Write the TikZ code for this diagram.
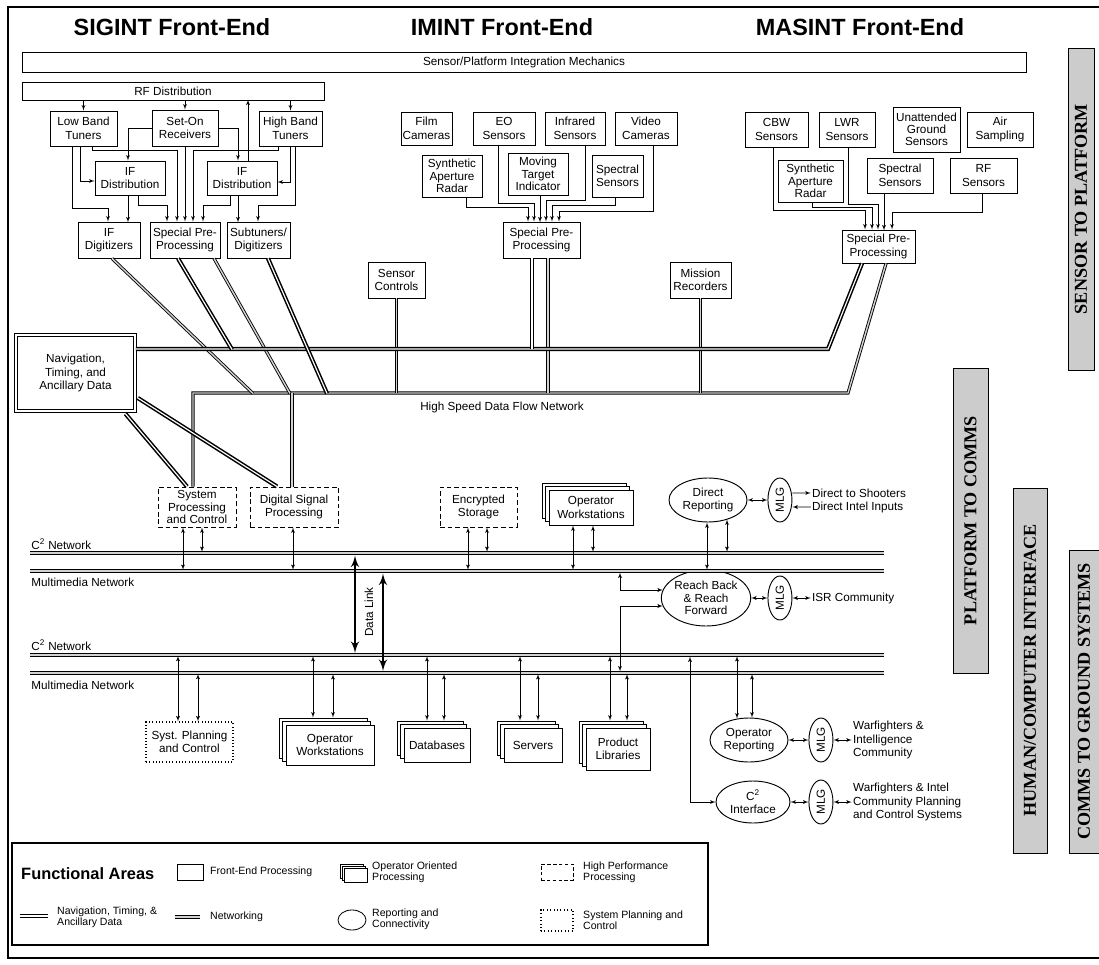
\documentclass[tikz,border=0pt]{standalone}
\usepackage{fontspec}
\setmainfont{Liberation Sans}
\newfontfamily\bannerfont{Liberation Serif}
\usepackage{graphicx}
\usepackage{tikz}
\usetikzlibrary{positioning}
\usetikzlibrary{arrows,arrows.meta}
\usetikzlibrary{calc}
\usetikzlibrary{shapes,shapes.geometric,shadows}
\newcommand{\boxfont}{\fontsize{10}{11.5}\selectfont}
\newcommand{\legfont}{\fontsize{9}{9.5}\selectfont}
\tikzset{wh/.style 2 args={minimum width=#1*0.03cm, minimum height=#2*0.03cm}}
\tikzstyle{feblock} = [draw, fill=white, rectangle, line width=0.8pt, align=center, inner sep=1pt, font=\boxfont]
\tikzstyle{hpblock} = [feblock, dash pattern=on 4pt off 2.5pt]
\tikzstyle{spblock} = [feblock, dotted, line width=1.1pt]
\tikzstyle{opblock} = [feblock, double copy shadow={shadow xshift=-3pt, shadow yshift=3pt}]
\tikzstyle{legop} = [draw, fill=white, line width=0.6pt, double copy shadow={shadow xshift=-1.5pt, shadow yshift=1.5pt}]
\tikzstyle{ntabox} = [feblock, line width=1.4pt, double, double distance=1pt]
\tikzstyle{report} = [draw, fill=white, ellipse, line width=0.8pt, align=center, inner sep=0pt, font=\boxfont]
\tikzstyle{mlg} = [report, wh={24}{44}]
\tikzstyle{ntaline} = [line width=1.3pt, double, double distance=1pt]
\tikzstyle{netline} = [line width=0.75pt, draw=black, double=gray!35, double distance=1.2pt]
\tikzstyle{feed} = [->, line width=0.6pt]
\tikzstyle{duplex} = [<->, line width=0.6pt]
\tikzstyle{dlink} = [<->, line width=2.4pt]
\tikzstyle{banner} = [draw, fill=gray!40, line width=0.8pt, rotate=90, inner sep=0pt, font=\bannerfont\bfseries\fontsize{15.5}{16}\selectfont]
\tikzstyle{areatitle} = [font=\bfseries\fontsize{20}{24}\selectfont]
\tikzstyle{netlabel} = [font=\boxfont, inner sep=1pt]
\tikzstyle{endtext} = [font=\boxfont, align=left, inner sep=1pt]
\tikzstyle{legtext} = [font=\legfont, align=left, anchor=west, inner sep=0pt]

\begin{document}
\begin{tikzpicture}[x=0.03cm, y=-0.03cm, auto, >=latex']
\useasboundingbox (0,0) rectangle (1099,965);
\draw[line width=1pt] (1099,7) -- (8,7) -- (8,958) -- (1099,958);

\node[areatitle] (sigtitle) at (172,27) {SIGINT Front-End};
\node[areatitle] (imtitle) at (502,27) {IMINT Front-End};
\node[areatitle] (mastitle) at (860,27) {MASINT Front-End};
\node[feblock, wh={1004}{20}] (mech) at (524,62) {Sensor/Platform Integration Mechanics};

\node[feblock, wh={302}{18}] (rfdist) at (173,91) {RF Distribution};
\node[feblock, wh={67}{35}] (lowband) at (83.5,128.5) {Low Band\\Tuners};
\node[feblock, wh={66}{36}] (seton) at (185,128) {Set-On\\Receivers};
\node[feblock, wh={63}{35}] (highband) at (290.5,128.5) {High Band\\Tuners};
\node[feblock, wh={70}{34}] (ifdistl) at (130,178) {IF\\Distribution};
\node[feblock, wh={70}{34}] (ifdistr) at (242,178) {IF\\Distribution};
\node[feblock, wh={62}{36}] (ifdig) at (109,240) {IF\\Digitizers};
\node[feblock, wh={70}{36}] (sppre) at (185,240) {Special Pre-\\Processing};
\node[feblock, wh={63}{36}] (subtun) at (258.5,240) {Subtuners/\\Digitizers};

\node[feblock, wh={51}{33}] (film) at (426.5,128.5) {Film\\Cameras};
\node[feblock, wh={62}{33}] (eo) at (504,128.5) {EO\\Sensors};
\node[feblock, wh={60}{33}] (infrared) at (575,128.5) {Infrared\\Sensors};
\node[feblock, wh={62}{33}] (video) at (646,128.5) {Video\\Cameras};
\node[feblock, wh={60}{42}, font=\fontsize{10}{10.5}\selectfont] (sari) at (452,176) {Synthetic\\Aperture\\Radar};
\node[feblock, wh={60}{42}, font=\fontsize{10}{10.5}\selectfont] (mti) at (538,174) {Moving\\Target\\Indicator};
\node[feblock, wh={51}{42}] (speci) at (617.5,176) {Spectral\\Sensors};
\node[feblock, wh={77}{36}] (sppi) at (541.5,240) {Special Pre-\\Processing};
\node[feblock, wh={57}{36}] (senctl) at (396.5,280) {Sensor\\Controls};
\node[feblock, wh={61}{36}] (missrec) at (700.5,280) {Mission\\Recorders};

\node[feblock, wh={63}{35}] (cbw) at (776.5,129.5) {CBW\\Sensors};
\node[feblock, wh={56}{35}] (lwr) at (847,129.5) {LWR\\Sensors};
\node[feblock, wh={67}{45}, font=\fontsize{10}{10.5}\selectfont] (ugs) at (926.5,129.5) {Unattended\\Ground\\Sensors};
\node[feblock, wh={66}{35}] (air) at (1000,129.5) {Air\\Sampling};
\node[feblock, wh={65}{42}, font=\fontsize{10}{10.5}\selectfont] (sarm) at (810.5,181) {Synthetic\\Aperture\\Radar};
\node[feblock, wh={66}{35}] (specm) at (900,175.5) {Spectral\\Sensors};
\node[feblock, wh={67}{35}] (rfs) at (983.5,175.5) {RF\\Sensors};
\node[feblock, wh={73}{33}] (sppm) at (878.5,246.5) {Special Pre-\\Processing};

\node[ntabox, wh={119}{76}] (nav) at (75.5,373) {Navigation,\\Timing, and\\Ancillary Data};
\node[hpblock, wh={78}{40}, inner sep=0pt, font=\fontsize{10}{11}\selectfont] (sysproc) at (197,507) {System\\Processing\\and Control};
\node[hpblock, wh={88}{40}] (dsp) at (294,507) {Digital Signal\\Processing};
\node[hpblock, wh={77}{40}] (encst) at (478.5,507) {Encrypted\\Storage};
\node[opblock, wh={84}{35}] (opwsu) at (591,507.5) {Operator\\Workstations};
\node[report, wh={78}{44}] (dirrep) at (708,500) {Direct\\Reporting};
\node[mlg, right=0.6cm of dirrep] (mlg1) {\rotatebox{90}{MLG}};
\node[endtext, right=0.55cm of mlg1, yshift=0.21cm] (shooters) {Direct to Shooters};
\node[endtext, right=0.55cm of mlg1, yshift=-0.21cm] (intel) {Direct Intel Inputs};

\node[report, wh={80}{56}, font=\fontsize{10}{10.5}\selectfont] (reach) at (706,598) {Reach Back\\\& Reach\\Forward};
\node[mlg] (mlg2) at (mlg1 |- reach) {\rotatebox{90}{MLG}};
\node[endtext, right=0.55cm of mlg2] (isr) {ISR Community};

\node[spblock, wh={87}{40}] (sysplan) at (189.5,742) {Syst. Planning\\and Control};
\node[opblock, wh={88}{40}] (opwsl) at (330,745) {Operator\\Workstations};
\node[opblock, wh={66}{34}] (db) at (437,745) {Databases};
\node[opblock, wh={58}{34}] (servers) at (533,745) {Servers};
\node[opblock, wh={64}{42}] (prodlib) at (618,749) {Product\\Libraries};
\node[report, wh={78}{44}] (opreport) at (749,740) {Operator\\Reporting};
\node[mlg, right=0.6cm of opreport] (mlg3) {\rotatebox{90}{MLG}};
\node[endtext, right=0.55cm of mlg3] (wf1) {Warfighters \&\\Intelligence\\Community};
\node[report, wh={74}{42}] (c2if) at (753,802) {C\textsuperscript{2}\\Interface};
\node[mlg] (mlg4) at (mlg3 |- c2if) {\rotatebox{90}{MLG}};
\node[endtext, right=0.55cm of mlg4] (wf2) {Warfighters \& Intel\\Community Planning\\and Control Systems};

\node[banner, wh={322}{26}] (s2p) at (1081,209) {SENSOR TO PLATFORM};
\node[banner, wh={305}{35}] (p2c) at (970.5,520.5) {PLATFORM TO COMMS};
\node[banner, wh={365}{34}] (hci) at (1030,670.5) {HUMAN/COMPUTER INTERFACE};
\node[banner, wh={303}{30}] (c2g) at (1084,701.5) {COMMS TO GROUND SYSTEMS};

\draw[feed] (rfdist.south -| lowband) -- (lowband);
\draw[feed] (rfdist.south -| seton) -- (seton);
\draw[feed] (rfdist.south -| highband) -- (highband);
\draw[feed] ($(ifdistr.north)+(6,0)$) -- ++(0,-61);
\draw[feed] ($(lowband.south)+(-11.5,0)$) -- ++(0,62) -| ($(ifdig.north)+(-1,0)$);
\draw[feed] ($(lowband.south)+(-3.5,0)$) |- ($(ifdistl.west)+(0,3)$);
\draw[feed] ($(lowband.south)+(8.5,0)$) -- ++(0,4) -| ($(sppre.north)+(-8,0)$);
\draw[feed] (seton.west) -| ($(ifdistl.north)+(-2,0)$);
\draw[feed] (seton.east) -| ($(ifdistr.north)+(-4,0)$);
\draw[feed] (seton) -- (sppre);
\draw[feed] ($(highband.south)+(-12.5,0)$) -- ++(0,4) -| ($(sppre.north)+(8,0)$);
\draw[feed] ($(highband.south)+(-0.5,0)$) |- ($(ifdistr.east)+(0,4)$);
\draw[feed] ($(highband.south)+(4.5,0)$) -- ++(0,59) -| ($(subtun.north)+(-0.5,0)$);
\draw[feed] ($(ifdistr.south)+(-4,0)$) -- ++(0,27);
\draw[feed] ($(ifdistr.south)+(-12,0)$) -- ++(0,10) -| ($(sppre.north)+(18,0)$);
\draw[feed] ($(ifdistl.south)+(-2,0)$) -- ++(0,27);
\draw[feed] ($(ifdistl.south)+(8,0)$) -- ++(0,10) -| ($(sppre.north)+(-18,0)$);

\draw[feed] ($(sari.south)+(14,0)$) -- ++(0,10) -| ($(sppi.north)+(-13.5,0)$);
\draw[feed] ($(eo.south)+(-6,0)$) -- ++(0,58) -| ($(sppi.north)+(-7.5,0)$);
\draw[feed] ($(mti.south)+(2,0)$) -- ++(0,27);
\draw[feed] ($(infrared.south)+(10,0)$) -- ++(0,55) -| ($(sppi.north)+(4.5,0)$);
\draw[feed] ($(speci.south)+(-2.5,0)$) -- ++(0,8) -| ($(sppi.north)+(10.5,0)$);
\draw[feed] ($(video.south)+(7,0)$) -- ++(0,66) -| ($(sppi.north)+(17.5,0)$);

\draw[feed] ($(cbw.south)+(-3.5,0)$) -- ++(0,63) -| ($(sppm.north)+(-13.5,0)$);
\draw[feed] ($(sarm.south)+(1.5,0)$) -- ++(0,5) -| ($(sppm.north)+(-6.5,0)$);
\draw[feed] ($(lwr.south)+(1,0)$) -- ++(0,57) -| ($(sppm.north)+(-0.5,0)$);
\draw[feed] ($(specm.south)+(-16,0)$) -- ++(0,37);
\draw[feed] ($(rfs.south)+(-1.5,0)$) -- ++(0,19) -| ($(sppm.north)+(13.5,0)$);

\coordinate (ntabend) at (828,349);
\coordinate (hsbend) at (848,393);
\draw[netline] ($(sysproc.north)+(-4,0)$) |- (hsbend) -- ($(sppm.south)+(7.5,0)$);
\draw[netline] ($(ifdig.south)+(3,0)$) -- ++(141,135);
\draw[netline] ($(sppre.south)+(29,0)$) -- ++(76,135);
\draw[netline] ($(sppi.south)+(6.5,0)$) -- ++(0,135);
\draw[netline] (senctl.south) -- ++(0,95);
\draw[netline] (missrec.south) -- ++(0,95);
\draw[netline] ($(dsp.north)+(-2,0)$) -- ++(0,-94);
\draw[ntaline] ($(nav.east)+(0,-24)$) -- (ntabend) -- ($(sppm.south)+(-16.5,0)$);
\draw[ntaline] ($(sppre.south)+(-7,0)$) -- ++(54,91);
\draw[ntaline] ($(subtun.south)+(9.5,0)$) -- ++(59,135);
\draw[ntaline] ($(sppi.south)+(-9.5,0)$) -- ++(0,91);
\draw[ntaline] ($(nav.south)+(50,2)$) -- ($(sysproc.north)+(-10,0)$);
\draw[ntaline] ($(nav.east)+(2,25)$) -- ($(dsp.north)+(-17,0)$);
\node[netlabel] (hsdfntext) at (502,407) {High Speed Data Flow Network};

\coordinate (c2aw) at (30,553);
\coordinate (c2ae) at (884,553);
\coordinate (mmaw) at (30,571);
\coordinate (mmae) at (884,571);
\coordinate (c2bw) at (30,655);
\coordinate (c2be) at (884,655);
\coordinate (mmbw) at (30,673);
\coordinate (mmbe) at (884,673);
\draw[netline] (c2aw) -- (c2ae);
\draw[netline] (mmaw) -- (mmae);
\draw[netline] (c2bw) -- (c2be);
\draw[netline] (mmbw) -- (mmbe);
\node[netlabel, anchor=base west] (c2atext) at (30,549) {C\textsuperscript{2} Network};
\node[netlabel, anchor=base west] (mmatext) at (30,586) {Multimedia Network};
\node[netlabel, anchor=base west] (c2btext) at (30,650) {C\textsuperscript{2} Network};
\node[netlabel, anchor=base west] (mmbtext) at (30,689) {Multimedia Network};

\draw[duplex] ($(sysproc.south)+(-14,0)$) -- ++(0,42.5);
\draw[duplex] ($(sysproc.south)+(5,0)$) -- ++(0,24.5);
\draw[duplex] ($(dsp.south)+(-1,0)$) -- ++(0,42.5);
\draw[duplex] ($(encst.south)+(-10.5,0)$) -- ++(0,42.5);
\draw[duplex] ($(encst.south)+(8.5,0)$) -- ++(0,24.5);
\draw[duplex] ($(opwsu.south)+(-18,0)$) -- ++(0,44.5);
\draw[duplex] ($(opwsu.south)+(2,0)$) -- ++(0,26.5);
\draw[duplex] ($(dirrep.south)+(-1,0)$) -- ++(0,47.5);
\draw[duplex] ($(dirrep.south)+(19,-3)$) -- ++(0,32.5);
\draw[duplex] (dirrep) -- (mlg1);
\draw[feed] ($(mlg1.east)+(0,-7)$) -- (shooters.west);
\draw[feed] (intel.west) -- ($(mlg1.east)+(0,7)$);

\coordinate (dlaup) at (355,555.5);
\coordinate (dladn) at (355,653);
\coordinate (dlbup) at (383,573.5);
\coordinate (dlbdn) at (383,671);
\draw[dlink] (dlaup) -- (dladn);
\draw[dlink] (dlbup) -- (dlbdn);
\node[netlabel, rotate=90] (dltext) at (369,612) {Data Link};

\coordinate (rbtop) at (620,572.5);
\coordinate (rbbot) at (620,671.5);
\draw[duplex] (rbtop) |- ($(reach.west)+(2,-8)$);
\draw[duplex] (rbbot) |- ($(reach.west)+(2,8)$);
\draw[duplex] (reach) -- (mlg2);
\draw[duplex] (mlg2) -- (isr);

\draw[duplex] ($(sysplan.north)+(-11.5,0)$) -- ++(0,-65.5);
\draw[duplex] ($(sysplan.north)+(8.5,0)$) -- ++(0,-47.5);
\draw[duplex] ($(opwsl.north)+(-17,-7)$) -- ++(0,-61.5);
\draw[duplex] ($(opwsl.north)+(3,-7)$) -- ++(0,-43.5);
\draw[duplex] ($(db.north)+(-10,-7)$) -- ++(0,-64.5);
\draw[duplex] ($(db.north)+(7,-7)$) -- ++(0,-46.5);
\draw[duplex] ($(servers.north)+(-13,-7)$) -- ++(0,-64.5);
\draw[duplex] ($(servers.north)+(5,-7)$) -- ++(0,-46.5);
\draw[duplex] ($(prodlib.north)+(-8,-7)$) -- ++(0,-64.5);
\draw[duplex] ($(prodlib.north)+(9,-7)$) -- ++(0,-46.5);
\draw[duplex] ($(opreport.north)+(-12,1)$) -- ++(0,-62.5);
\draw[duplex] ($(opreport.north)+(3,0)$) -- ++(0,-43.5);
\draw[duplex] (opreport) -- (mlg3);
\draw[duplex] (mlg3) -- (wf1);
\coordinate (c2ifup) at (690,656.5);
\draw[duplex] (c2ifup) |- (c2if.west);
\draw[duplex] (c2if) -- (mlg4);
\draw[duplex] (mlg4) -- (wf2);

\node[draw, line width=1.2pt, wh={696}{102}] (legend) at (360,894) {};
\node[anchor=west, inner sep=0pt, font=\bfseries\fontsize{14}{16}\selectfont] (legtitle) at (21,874) {Functional Areas};
\node[draw, line width=0.7pt, wh={26}{16}] (legfe) at (190,872) {};
\node[legtext] (legfetext) at (210,872) {Front-End Processing};
\node[legop, wh={23}{14}] (legopbox) at (355.5,875) {};
\node[legtext] (legoptext) at (372,872) {Operator Oriented\\Processing};
\node[draw, line width=0.7pt, dash pattern=on 3pt off 2pt, wh={32}{16}] (leghp) at (557,872) {};
\node[legtext] (leghptext) at (583,872) {High Performance\\Processing};
\coordinate (legntaw) at (20,916);
\coordinate (legntae) at (48,916);
\draw[ntaline] (legntaw) -- (legntae);
\node[legtext] (legntatext) at (57,917) {Navigation, Timing, \&\\Ancillary Data};
\coordinate (legnetw) at (175,917);
\coordinate (legnete) at (200,917);
\draw[netline] (legnetw) -- (legnete);
\node[legtext] (legnettext) at (210,917) {Networking};
\node[draw, ellipse, line width=0.7pt, wh={28}{20}] (legrep) at (352,920) {};
\node[legtext] (legreptext) at (372,919) {Reporting and\\Connectivity};
\node[draw, dotted, line width=0.9pt, wh={32}{21}] (legsp) at (557,920.5) {};
\node[legtext] (legsptext) at (583,920) {System Planning and\\Control};
\end{tikzpicture}
\end{document}
